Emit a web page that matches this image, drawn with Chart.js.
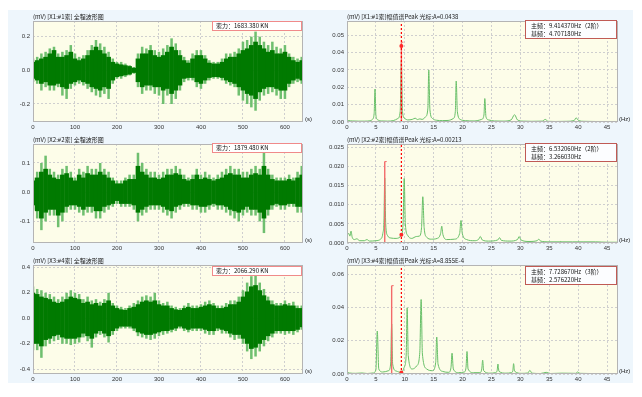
<!DOCTYPE html>
<html>
<head>
<meta charset="utf-8">
<script src="https://cdn.jsdelivr.net/npm/chart.js@4.4.0/dist/chart.umd.min.js"></script>
<style>
body { margin: 0; width: 642px; height: 397px; position: relative; overflow: hidden; background: #fff; font-family: "Noto Sans CJK SC", sans-serif; }
#bg { position: absolute; left: 8px; top: 10px; width: 625px; height: 373px; background: #eef6fc; }
canvas { position: absolute; }
.ttl { position: absolute; font-size: 6px; line-height: 8px; color: #222; white-space: nowrap; }
.unit { position: absolute; font-size: 6px; line-height: 6px; color: #222; font-family: "Liberation Sans", sans-serif; }
.fbox { position: absolute; box-sizing: border-box; width: 90px; height: 10px; background: #fff; border: 1px solid #f08a8a; font-size: 6px; line-height: 8px; padding-left: 3px; white-space: nowrap; color: #111; }
.mbox { position: absolute; box-sizing: border-box; width: 92px; height: 19px; background: #fcfdff; border: 1px solid #c05a55; font-size: 6px; line-height: 7.5px; padding: 1px 0 0 5px; white-space: nowrap; color: #111; }
</style>
</head>
<body>
<div id="bg"></div>
<canvas id="w1" width="312" height="125"></canvas>
<canvas id="s1" width="313" height="125"></canvas>
<canvas id="w2" width="312" height="123"></canvas>
<canvas id="s2" width="313" height="123"></canvas>
<canvas id="w3" width="312" height="130"></canvas>
<canvas id="s3" width="313" height="130"></canvas>
<script>
// 全程波形: 每10秒一个包络值 (外层浅色, 内层深色)
const waveStep = 10;
const wave1Hi = [0.07,0.08,0.10,0.11,0.13,0.14,0.10,0.11,0.12,0.15, 0.10,0.08,0.09,0.12,0.15,0.18,0.16,0.14,0.11,0.07, 0.05,0.05,0.04,0.03,0.02,0.10,0.14,0.13,0.15,0.12, 0.11,0.13,0.15,0.19,0.16,0.12,0.08,0.06,0.10,0.12, 0.12,0.09,0.06,0.05,0.05,0.07,0.10,0.10,0.11,0.13, 0.17,0.18,0.20,0.23,0.20,0.17,0.15,0.17,0.14,0.13, 0.15,0.10,0.08,0.07,0.08];
const wave1Lo = [-0.07,-0.08,-0.12,-0.10,-0.12,-0.12,-0.10,-0.15,-0.17,-0.11, -0.09,-0.08,-0.09,-0.11,-0.13,-0.15,-0.16,-0.14,-0.17,-0.08, -0.05,-0.05,-0.04,-0.03,-0.02,-0.10,-0.14,-0.12,-0.12,-0.14, -0.15,-0.20,-0.15,-0.20,-0.17,-0.12,-0.07,-0.06,-0.06,-0.10, -0.11,-0.08,-0.06,-0.05,-0.05,-0.06,-0.08,-0.09,-0.10,-0.15, -0.18,-0.20,-0.22,-0.24,-0.18,-0.15,-0.14,-0.13,-0.15,-0.17, -0.17,-0.10,-0.08,-0.07,-0.08];
const wave1InHi = [0.05,0.06,0.07,0.08,0.10,0.12,0.08,0.08,0.09,0.11, 0.07,0.06,0.07,0.09,0.12,0.14,0.12,0.10,0.08,0.05, 0.04,0.035,0.03,0.025,0.015,0.07,0.10,0.10,0.12,0.09, 0.08,0.09,0.11,0.14,0.12,0.09,0.06,0.045,0.07,0.09, 0.09,0.07,0.045,0.04,0.04,0.05,0.07,0.08,0.08,0.10, 0.12,0.13,0.15,0.17,0.15,0.13,0.11,0.12,0.10,0.10, 0.11,0.08,0.06,0.05,0.06];
const wave1InLo = [-0.05,-0.06,-0.08,-0.07,-0.09,-0.09,-0.08,-0.10,-0.11,-0.08, -0.07,-0.06,-0.07,-0.08,-0.10,-0.11,-0.12,-0.10,-0.11,-0.06, -0.04,-0.035,-0.03,-0.025,-0.015,-0.07,-0.10,-0.09,-0.09,-0.10, -0.10,-0.12,-0.11,-0.14,-0.12,-0.09,-0.05,-0.045,-0.045,-0.07, -0.08,-0.06,-0.045,-0.04,-0.04,-0.045,-0.06,-0.07,-0.08,-0.10, -0.12,-0.14,-0.15,-0.17,-0.13,-0.11,-0.10,-0.10,-0.11,-0.12, -0.12,-0.08,-0.06,-0.05,-0.06];

const wave2Hi = [0.05,0.07,0.10,0.125,0.08,0.07,0.06,0.08,0.09,0.07, 0.05,0.08,0.07,0.09,0.08,0.08,0.10,0.08,0.07,0.05, 0.04,0.04,0.05,0.06,0.06,0.135,0.10,0.08,0.07,0.07, 0.06,0.07,0.08,0.08,0.09,0.08,0.06,0.05,0.06,0.08, 0.06,0.07,0.06,0.05,0.06,0.07,0.08,0.09,0.08,0.08, 0.07,0.07,0.08,0.09,0.08,0.135,0.08,0.06,0.05,0.05, 0.05,0.06,0.05,0.07,0.09];
const wave2Lo = [-0.06,-0.09,-0.13,-0.10,-0.08,-0.08,-0.12,-0.10,-0.07,-0.06, -0.06,-0.07,-0.08,-0.07,-0.07,-0.09,-0.09,-0.07,-0.06,-0.05, -0.04,-0.05,-0.05,-0.05,-0.06,-0.10,-0.08,-0.07,-0.06,-0.06, -0.06,-0.07,-0.08,-0.09,-0.07,-0.06,-0.05,-0.05,-0.06,-0.06, -0.07,-0.07,-0.06,-0.05,-0.06,-0.06,-0.07,-0.08,-0.09,-0.10, -0.08,-0.07,-0.08,-0.08,-0.10,-0.14,-0.08,-0.06,-0.05,-0.06, -0.06,-0.05,-0.05,-0.07,-0.07];
const wave2InHi = [0.04,0.05,0.07,0.08,0.06,0.05,0.045,0.06,0.065,0.05, 0.04,0.06,0.05,0.065,0.06,0.06,0.07,0.06,0.05,0.04, 0.03,0.03,0.04,0.045,0.045,0.09,0.07,0.06,0.05,0.05, 0.045,0.05,0.06,0.06,0.065,0.06,0.045,0.04,0.045,0.06, 0.045,0.05,0.045,0.04,0.045,0.05,0.06,0.065,0.06,0.06, 0.05,0.05,0.06,0.065,0.06,0.09,0.06,0.045,0.04,0.04, 0.04,0.045,0.04,0.05,0.06];
const wave2InLo = [-0.045,-0.065,-0.09,-0.07,-0.06,-0.06,-0.08,-0.07,-0.05,-0.045, -0.045,-0.05,-0.06,-0.05,-0.05,-0.065,-0.065,-0.05,-0.045,-0.04, -0.03,-0.04,-0.04,-0.04,-0.045,-0.07,-0.06,-0.05,-0.045,-0.045, -0.045,-0.05,-0.06,-0.065,-0.05,-0.045,-0.04,-0.04,-0.045,-0.045, -0.05,-0.05,-0.045,-0.04,-0.045,-0.045,-0.05,-0.06,-0.065,-0.07, -0.06,-0.05,-0.06,-0.06,-0.07,-0.09,-0.06,-0.045,-0.04,-0.045, -0.045,-0.04,-0.04,-0.05,-0.05];

const wave3Hi = [0.25,0.23,0.22,0.20,0.19,0.17,0.15,0.17,0.20,0.22, 0.20,0.19,0.15,0.17,0.14,0.15,0.13,0.15,0.20,0.12, 0.10,0.09,0.08,0.10,0.12,0.14,0.17,0.18,0.17,0.20, 0.14,0.12,0.13,0.10,0.09,0.08,0.10,0.12,0.10,0.10, 0.11,0.13,0.14,0.12,0.10,0.10,0.12,0.14,0.14,0.17, 0.22,0.28,0.33,0.34,0.28,0.23,0.17,0.14,0.12,0.12, 0.14,0.12,0.13,0.10,0.10];
const wave3Lo = [-0.25,-0.25,-0.31,-0.22,-0.20,-0.18,-0.17,-0.20,-0.20,-0.21, -0.20,-0.19,-0.15,-0.18,-0.23,-0.15,-0.13,-0.15,-0.19,-0.13, -0.10,-0.08,-0.08,-0.08,-0.10,-0.14,-0.15,-0.16,-0.17,-0.16, -0.14,-0.13,-0.12,-0.11,-0.10,-0.08,-0.10,-0.11,-0.10,-0.10, -0.10,-0.12,-0.13,-0.13,-0.10,-0.12,-0.12,-0.15,-0.17,-0.16, -0.20,-0.26,-0.32,-0.30,-0.26,-0.22,-0.18,-0.15,-0.12,-0.12, -0.13,-0.12,-0.13,-0.11,-0.09];
const wave3InHi = [0.20,0.19,0.17,0.16,0.15,0.13,0.12,0.13,0.15,0.17, 0.16,0.15,0.12,0.13,0.11,0.12,0.10,0.12,0.14,0.10, 0.08,0.07,0.065,0.08,0.09,0.11,0.13,0.14,0.13,0.14, 0.11,0.10,0.10,0.08,0.07,0.065,0.08,0.09,0.08,0.08, 0.09,0.10,0.11,0.10,0.08,0.08,0.09,0.11,0.11,0.13, 0.17,0.21,0.25,0.26,0.22,0.18,0.14,0.11,0.10,0.10, 0.11,0.10,0.10,0.08,0.08];
const wave3InLo = [-0.20,-0.20,-0.22,-0.17,-0.16,-0.14,-0.13,-0.15,-0.16,-0.16, -0.16,-0.15,-0.12,-0.14,-0.16,-0.12,-0.10,-0.12,-0.14,-0.10, -0.08,-0.065,-0.065,-0.065,-0.08,-0.11,-0.12,-0.13,-0.13,-0.12, -0.11,-0.10,-0.10,-0.09,-0.08,-0.065,-0.08,-0.09,-0.08,-0.08, -0.08,-0.09,-0.10,-0.10,-0.08,-0.09,-0.10,-0.12,-0.13,-0.13, -0.16,-0.20,-0.24,-0.23,-0.20,-0.17,-0.14,-0.12,-0.10,-0.10, -0.10,-0.10,-0.10,-0.09,-0.07];

// 幅值谱 (频率 Hz, 幅值 mV)
const spec1Freq = [0,0.3,1,2,3, 4,4.4,4.7,4.85,5.0, 5.3,6,7,8,8.8, 9.2,9.41,9.6,10.0,10.5, 11.3,11.8,12.2,12.6,13.0, 13.6,14.0,14.15,14.35,14.8, 15.5,16.5,17.5,18.4,18.75, 18.9,19.1,19.6,20.5,22, 23.3,23.7,23.85,24.05,24.5, 25.5,27,28.4,29.0,29.5, 30.5,32,33.8,34.3,34.8, 36,38,39.3,39.65,40.1, 41,43,45,47];
const spec1Amp = [0.0012,0.0008,0.0006,0.0005,0.0005, 0.0007,0.0015,0.005,0.019,0.004, 0.0013,0.0006,0.0005,0.0008,0.002, 0.006,0.035,0.006,0.002,0.0012, 0.0015,0.0022,0.0014,0.0018,0.0015, 0.003,0.008,0.030,0.007,0.002, 0.001,0.0008,0.0009,0.002,0.006, 0.0236,0.006,0.0015,0.0008,0.0006, 0.0015,0.004,0.0135,0.003,0.0012, 0.0006,0.0005,0.0012,0.0042,0.0012, 0.0005,0.0004,0.0005,0.0015,0.0004, 0.0003,0.0004,0.0008,0.0024,0.0008, 0.0004,0.0003,0.0003,0.0003];
const spec2Freq = [0,0.3,0.5,0.7,0.9, 1.3,1.7,2.2,3.0,3.45, 3.9,5.0,5.8,6.2,6.4, 6.53,6.7,7.0,7.6,8.5, 9.4,9.7,9.9,10.1,10.5, 11.2,12.0,12.5,12.9,13.12, 13.35,13.8,14.6,15.6,16.2, 16.4,16.6,17.3,18.6,19.5, 19.73,19.95,20.7,22.0,22.8, 23.07,23.4,24.5,26.1,26.4, 26.7,28.2,29.5,29.8,30.1, 31.5,32.9,33.2,33.5,35, 36.7,36.9,37.2,39,41, 43,45,47];
const spec2Amp = [0.002,0.0025,0.0018,0.0031,0.0015, 0.0009,0.0011,0.0006,0.0006,0.0009, 0.0005,0.0006,0.001,0.0025,0.006, 0.017,0.005,0.002,0.0013,0.0012, 0.002,0.005,0.0169,0.005,0.002, 0.0012,0.0017,0.0018,0.004,0.0121, 0.004,0.0015,0.001,0.0012,0.0025, 0.0044,0.0022,0.0009,0.001,0.0025, 0.0059,0.0025,0.0009,0.0006,0.001, 0.0017,0.0008,0.0005,0.0008,0.0014, 0.0007,0.0005,0.0009,0.0017,0.0008, 0.0004,0.0006,0.001,0.0005,0.0003, 0.0003,0.0004,0.0003,0.0003,0.0003, 0.0003,0.0002,0.0002];
const spec3Freq = [0,0.4,1.5,2.6,3.5, 4.5,5.0,5.24,5.5,6.2, 7.2,7.55,7.73,7.9,8.5, 9.41,9.9,10.25,10.41,10.6, 11.3,12.1,12.6,12.83,13.05, 13.8,14.8,15.35,15.53,15.75, 16.6,17.6,18.0,18.18,18.4, 19.3,20.3,20.6,20.77,20.95, 21.9,23.0,23.32,23.48,23.65, 24.7,25.7,25.98,26.12,26.3, 27.5,28.45,28.7,28.83,29.0, 30.2,31.3,31.65,32.0,33.5, 34.47,35.2,37.2,39.6,39.9, 40.3,42,44,47];
const spec3Amp = [0.0018,0.0006,0.0004,0.0006,0.0003, 0.0006,0.0025,0.0258,0.003,0.0012, 0.002,0.006,0.030,0.006,0.0018, 0.0009,0.004,0.012,0.0397,0.011, 0.003,0.005,0.013,0.0447,0.012, 0.003,0.002,0.007,0.0222,0.006, 0.0015,0.001,0.004,0.0125,0.003, 0.0008,0.0012,0.004,0.0135,0.003, 0.0008,0.0008,0.003,0.0083,0.002, 0.0005,0.0008,0.002,0.006,0.0016, 0.0005,0.0008,0.002,0.0062,0.0017, 0.0004,0.0006,0.0022,0.0005,0.0003, 0.001,0.0003,0.0005,0.0004,0.0012, 0.0004,0.0003,0.0002,0.0002];

// 主频 / 光标
const mainFreq = [9.41437, 6.53206, 7.72867];
const mainTop = [0.046, 0.0213, 0.053];
const cursorFreq = 9.41;
const cursorAmp = [0.0438, 0.00213, 0.0008855];

// 刻度
const waveXTicks = [0,100,200,300,400,500,600];
const specXTicks = [0,5,10,15,20,25,30,35,40,45];
const wave1YTicks = [-0.2,0,0.2];
const wave2YTicks = [-0.1,0,0.1];
const wave3YTicks = [-0.4,-0.2,0,0.2,0.4];
const spec1YTicks = [0,0.01,0.02,0.03,0.04,0.05];
const spec2YTicks = [0,0.005,0.01,0.015,0.02,0.025];
const spec3YTicks = [0,0.02,0.04,0.06];

// 文字
const waveTitles = ['(mV) [X1:#1索] 全程波形图','(mV) [X2:#2索] 全程波形图','(mV) [X3:#4索] 全程波形图'];
const specTitles = ['(mV) [X1:#1索]幅值谱Peak 光标:A=0.0438','(mV) [X2:#2索]幅值谱Peak 光标:A=0.00213','(mV) [X3:#4索]幅值谱Peak 光标:A=8.855E-4'];
const cableForce = ['1683.380 KN','1879.480 KN','2066.290 KN'];
const mainFreqText = ['9.414370Hz','6.532060Hz','7.728670Hz'];
const mainOrder = ['2阶','2阶','3阶'];
const baseFreqText = ['4.707180Hz','3.266030Hz','2.576220Hz'];

// 版面
const cols = [{ cx: 8, cw: 312, pl: 33, pr: 303 }, { cx: 320, cw: 313, pl: 347, pr: 618 }];
const rows = [{ cy: 10, ch: 125, pt: 21, pb: 122 }, { cy: 135, ch: 123, pt: 144, pb: 243 }, { cy: 258, ch: 130, pt: 265, pb: 374 }];
const xAxisH = 10;
const tickFont = { family: 'Liberation Sans', size: 6 };

const plotBg = {
  id: 'plotBg',
  beforeDraw(chart) {
    const a = chart.chartArea, ctx = chart.ctx;
    ctx.save();
    ctx.fillStyle = '#fdfde9';
    ctx.fillRect(a.left, a.top, a.right - a.left, a.bottom - a.top);
    ctx.restore();
  },
  afterDraw(chart) {
    const a = chart.chartArea, ctx = chart.ctx;
    ctx.save();
    ctx.strokeStyle = '#b4b4b4';
    ctx.lineWidth = 1;
    ctx.strokeRect(Math.round(a.left) + 0.5, Math.round(a.top) + 0.5, Math.round(a.right - a.left) - 1, Math.round(a.bottom - a.top) - 1);
    ctx.restore();
  }
};

function place(id, col, row) {
  const c = document.getElementById(id);
  c.style.left = col.cx + 'px';
  c.style.top = row.cy + 'px';
  return c;
}

function axisOptions(col, row, xMax, xTicks, yMin, yMax, yTicks, dec) {
  return {
    responsive: false,
    animation: false,
    layout: { padding: { left: 0, top: row.pt - row.cy, right: col.cx + col.cw - col.pr, bottom: row.cy + row.ch - row.pb - xAxisH } },
    plugins: { legend: { display: false }, tooltip: { enabled: false } },
    scales: {
      x: {
        type: 'linear', min: 0, max: xMax, offset: false,
        afterBuildTicks: s => { s.ticks = xTicks.map(v => ({ value: v })); },
        afterFit: s => { s.height = xAxisH; },
        ticks: { font: tickFont, color: '#333', padding: 2, maxRotation: 0, autoSkip: false, callback: v => String(v) },
        grid: { color: '#cfcfcf', drawTicks: false, offset: false },
        border: { display: false, dash: [2, 2] }
      },
      y: {
        min: yMin, max: yMax,
        afterBuildTicks: s => { s.ticks = yTicks.map(v => ({ value: v })); },
        afterFit: s => { s.width = col.pl - col.cx; },
        ticks: { font: tickFont, color: '#333', padding: 3, callback: v => Number(v).toFixed(dec) },
        grid: { color: '#cfcfcf', drawTicks: false },
        border: { display: false, dash: [2, 2] }
      }
    }
  };
}

function waveChart(id, r, hi, lo, inHi, inLo, yMin, yMax, yTicks) {
  const outer = hi.map((v, i) => ({ x: i * waveStep, y: [lo[i], v] }));
  const inner = inHi.map((v, i) => ({ x: i * waveStep, y: [inLo[i], v] }));
  const bar = { grouped: false, categoryPercentage: 1, borderWidth: 0 };
  new Chart(place(id, cols[0], rows[r]), {
    type: 'bar',
    data: { datasets: [
      Object.assign({ data: inner, backgroundColor: '#007a00', barPercentage: 1.12, order: 1 }, bar),
      Object.assign({ data: outer, backgroundColor: '#6fbf6f', barPercentage: 0.6, order: 2 }, bar)
    ] },
    options: axisOptions(cols[0], rows[r], 643, waveXTicks, yMin, yMax, yTicks, 1),
    plugins: [plotBg]
  });
}

function specChart(id, r, freq, amp, yMax, yTicks, dec) {
  const line = freq.map((f, i) => ({ x: f, y: amp[i] }));
  new Chart(place(id, cols[1], rows[r]), {
    type: 'scatter',
    data: { datasets: [
      { data: [{ x: cursorFreq, y: cursorAmp[r] }], pointRadius: 2, pointBackgroundColor: '#ff2a2a', pointBorderWidth: 0, order: 0 },
      { data: [{ x: cursorFreq, y: 0 }, { x: cursorFreq, y: yMax }], showLine: true, borderColor: '#ff0000', borderWidth: 1.2, borderDash: [2, 2], pointRadius: 0, order: 1 },
      { data: [{ x: mainFreq[r], y: 0 }, { x: mainFreq[r], y: mainTop[r] }], showLine: true, borderColor: '#f36a6a', borderWidth: 1.4,
        pointRadius: [0, 2], pointStyle: 'dash', pointBorderColor: '#f36a6a', pointBorderWidth: 1, order: 2 },
      { data: line, showLine: true, borderColor: '#68c068', borderWidth: 1, pointRadius: 0, cubicInterpolationMode: 'monotone', order: 3 }
    ] },
    options: axisOptions(cols[1], rows[r], 46.9, specXTicks, 0, yMax, yTicks, dec),
    plugins: [plotBg]
  });
}

waveChart('w1', 0, wave1Hi, wave1Lo, wave1InHi, wave1InLo, -0.307, 0.293, wave1YTicks);
waveChart('w2', 1, wave2Hi, wave2Lo, wave2InHi, wave2InLo, -0.174, 0.165, wave2YTicks);
waveChart('w3', 2, wave3Hi, wave3Lo, wave3InHi, wave3InLo, -0.437, 0.418, wave3YTicks);
specChart('s1', 0, spec1Freq, spec1Amp, 0.0582, spec1YTicks, 2);
specChart('s2', 1, spec2Freq, spec2Amp, 0.0259, spec2YTicks, 3);
specChart('s3', 2, spec3Freq, spec3Amp, 0.0654, spec3YTicks, 2);

// 标题, 索力框, 主频框, 单位
function addDiv(cls, left, top, html) {
  const d = document.createElement('div');
  d.className = cls;
  d.style.left = left + 'px';
  d.style.top = top + 'px';
  d.innerHTML = html;
  document.body.appendChild(d);
  return d;
}
const fboxTop = [21, 143, 266];
const mboxTop = [20, 143, 266];
rows.forEach((row, r) => {
  addDiv('ttl', cols[0].pl, row.pt - 8, waveTitles[r]);
  addDiv('ttl', cols[1].pl, row.pt - 8, specTitles[r]);
  addDiv('fbox', 212, fboxTop[r], '索力：' + cableForce[r]);
  addDiv('mbox', 525, mboxTop[r], '主频：' + mainFreqText[r] + '（' + mainOrder[r] + '）<br>基频：' + baseFreqText[r]);
  addDiv('unit', cols[0].pr + 2, row.pb - 6, '(s)');
  addDiv('unit', cols[1].pr + 1, row.pb - 6, '(Hz)');
});
</script>
</body>
</html>
